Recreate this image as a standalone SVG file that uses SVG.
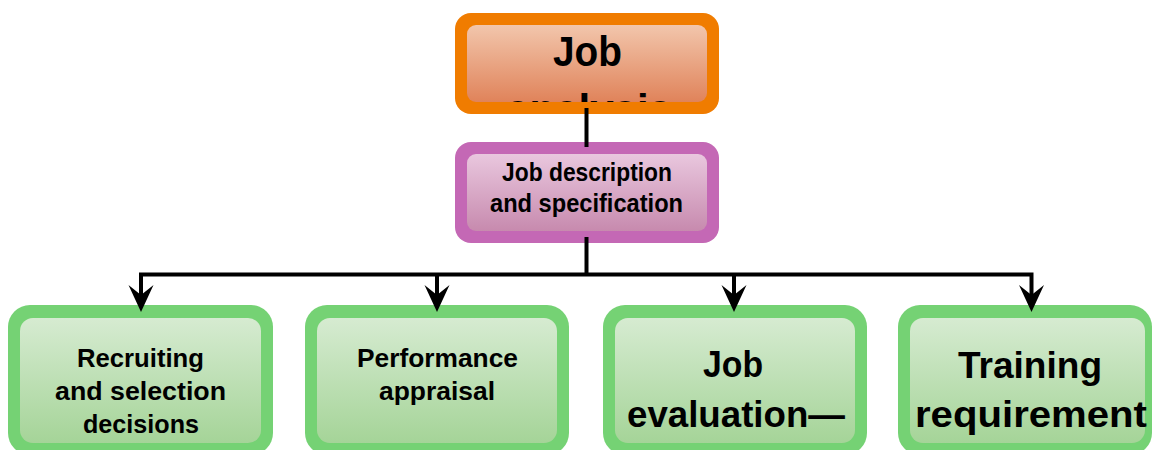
<svg xmlns="http://www.w3.org/2000/svg" width="1153" height="450" viewBox="0 0 1153 450">
  <defs>
    <linearGradient id="gOrange" x1="0" y1="0" x2="0" y2="1">
      <stop offset="0" stop-color="#f2c6ac"/>
      <stop offset="1" stop-color="#e0835a"/>
    </linearGradient>
    <linearGradient id="gPurple" x1="0" y1="0" x2="0" y2="1">
      <stop offset="0" stop-color="#e9c7de"/>
      <stop offset="1" stop-color="#c78aae"/>
    </linearGradient>
    <linearGradient id="gGreen" x1="0" y1="0" x2="0" y2="1">
      <stop offset="0" stop-color="#d6ebd1"/>
      <stop offset="1" stop-color="#a5d498"/>
    </linearGradient>
    <clipPath id="clipTop">
      <rect x="467" y="25" width="240" height="77" rx="9"/>
    </clipPath>
    <marker id="arrow" viewBox="-28 -13 29 26" refX="-12" refY="0" markerWidth="29" markerHeight="26" markerUnits="userSpaceOnUse" orient="auto">
      <path d="M0,0 L-27,-12.5 L-17,0 L-27,12.5 Z" fill="#000"/>
    </marker>
  </defs>
  <style>
    .lbl { font-family: "Liberation Sans", Arial, sans-serif; font-weight: bold; fill: #000; text-anchor: middle; }
    .s26 { font-size: 26px; }
    .s36 { font-size: 36px; }
    .s42 { font-size: 42px; }
    .orange { fill: #f07c00; }
    .purple { fill: #c468b5; }
    .green { fill: #75d274; }
    .conn { fill: none; stroke: #000; stroke-width: 4; stroke-linejoin: miter; stroke-linecap: butt; }
  </style>

  <g id="node-job-analysis">
    <rect class="orange" x="455" y="13" width="264" height="101" rx="16"/>
    <rect x="467" y="25" width="240" height="77" rx="9" fill="url(#gOrange)"/>
    <g clip-path="url(#clipTop)">
      <text class="lbl s42" x="587.5" y="66" textLength="69" lengthAdjust="spacingAndGlyphs">Job</text>
      <text class="lbl s42" x="589" y="123.8" textLength="166" lengthAdjust="spacingAndGlyphs">analysis</text>
    </g>
  </g>

  <g id="node-job-description">
    <rect class="purple" x="455" y="142" width="264" height="101" rx="16"/>
    <rect x="467" y="154" width="240" height="77" rx="9" fill="url(#gPurple)"/>
    <text class="lbl s26" x="587" y="181" textLength="170" lengthAdjust="spacingAndGlyphs">Job description</text>
    <text class="lbl s26" x="586.5" y="212" textLength="193" lengthAdjust="spacingAndGlyphs">and specification</text>
  </g>

  <g id="node-recruiting">
    <rect class="green" x="8" y="305" width="265" height="150" rx="22"/>
    <rect x="20" y="318" width="241" height="125" rx="13" fill="url(#gGreen)"/>
    <text class="lbl s26" x="140.5" y="367" textLength="127" lengthAdjust="spacingAndGlyphs">Recruiting</text>
    <text class="lbl s26" x="140.5" y="400" textLength="171" lengthAdjust="spacingAndGlyphs">and selection</text>
    <text class="lbl s26" x="141" y="433" textLength="116" lengthAdjust="spacingAndGlyphs">decisions</text>
  </g>

  <g id="node-performance">
    <rect class="green" x="305" y="305" width="264" height="150" rx="22"/>
    <rect x="317" y="318" width="240" height="125" rx="13" fill="url(#gGreen)"/>
    <text class="lbl s26" x="437.5" y="367" textLength="161" lengthAdjust="spacingAndGlyphs">Performance</text>
    <text class="lbl s26" x="437" y="400" textLength="116" lengthAdjust="spacingAndGlyphs">appraisal</text>
  </g>

  <g id="node-job-evaluation">
    <rect class="green" x="603" y="305" width="264" height="150" rx="22"/>
    <rect x="615" y="318" width="240" height="125" rx="13" fill="url(#gGreen)"/>
    <text class="lbl s36" x="733" y="377" textLength="60" lengthAdjust="spacingAndGlyphs">Job</text>
    <text class="lbl s36" x="736" y="427" textLength="218" lengthAdjust="spacingAndGlyphs">evaluation—</text>
  </g>

  <g id="node-training">
    <rect class="green" x="898" y="305" width="254" height="150" rx="22"/>
    <rect x="910" y="318" width="235" height="125" rx="13" fill="url(#gGreen)"/>
    <text class="lbl s36" x="1030" y="378" textLength="144" lengthAdjust="spacingAndGlyphs">Training</text>
    <text class="lbl s36" x="1031" y="427" textLength="232" lengthAdjust="spacingAndGlyphs">requirement</text>
  </g>

  <g id="connectors">
    <path class="conn" d="M586.5,108 V147"/>
    <path class="conn" d="M586.5,237 V274.5"/>
    <path class="conn" d="M141,300 V274.5 H1031.5 V300" marker-end="url(#arrow)"/>
    <path class="conn" d="M141,274.5 V300" marker-end="url(#arrow)"/>
    <path class="conn" d="M437,274.5 V300" marker-end="url(#arrow)"/>
    <path class="conn" d="M734,274.5 V300" marker-end="url(#arrow)"/>
  </g>
</svg>
